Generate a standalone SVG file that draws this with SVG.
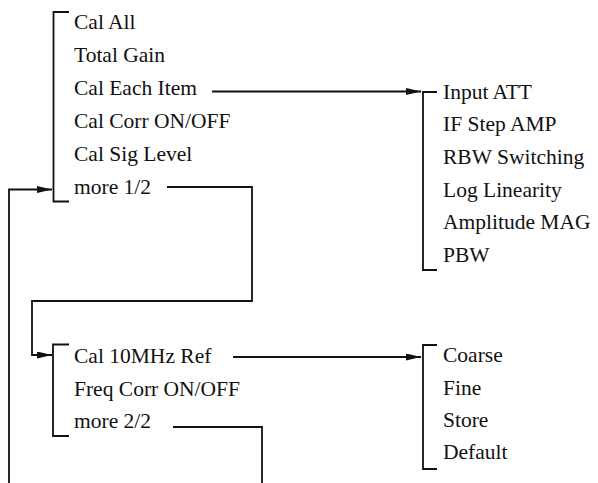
<svg xmlns="http://www.w3.org/2000/svg" width="598" height="483" viewBox="0 0 598 483">
<style>
.t{font-family:"Liberation Serif","Times New Roman",serif;font-size:21.5px;fill:#111}
.br{fill:none;stroke:#111;stroke-width:1.8}
.c{fill:none;stroke:#111;stroke-width:1.8}
</style>
<defs>
<marker id="ah" markerUnits="userSpaceOnUse" markerWidth="16" markerHeight="8" refX="15" refY="3.5" orient="auto">
<path d="M0,0 L15,3.5 L0,7 z" fill="#111"/>
</marker>
</defs>
<rect width="598" height="483" fill="#fff"/>
<g id="connectors">
<path class="c" d="M212,91.5 H421" marker-end="url(#ah)"/>
<path class="c" d="M167,187 H252 V301 H32 V355 H52" marker-end="url(#ah)"/>
<path class="c" d="M233,357 H421" marker-end="url(#ah)"/>
<path class="c" d="M173,427 H262 V483"/>
<path class="c" d="M9,483 V189.5 H52" marker-end="url(#ah)"/>
</g>
<g id="menu1">
<path class="br" d="M69,12 H53.5 V201.5 H69"/>
<text class="t" x="74" y="29">Cal All</text>
<text class="t" x="74" y="62">Total Gain</text>
<text class="t" x="74" y="95">Cal Each Item</text>
<text class="t" x="74" y="128">Cal Corr ON/OFF</text>
<text class="t" x="74" y="161">Cal Sig Level</text>
<text class="t" x="74" y="193.5">more 1/2</text>
</g>
<g id="menu2">
<path class="br" d="M437,92 H423 V270 H437"/>
<text class="t" x="443" y="98.5">Input ATT</text>
<text class="t" x="443" y="131.2">IF Step AMP</text>
<text class="t" x="443" y="163.9">RBW Switching</text>
<text class="t" x="443" y="196.6">Log Linearity</text>
<text class="t" x="443" y="229.3">Amplitude MAG</text>
<text class="t" x="443" y="262">PBW</text>
</g>
<g id="menu3">
<path class="br" d="M69,344.5 H53 V436 H69"/>
<text class="t" x="74" y="363.3">Cal 10MHz Ref</text>
<text class="t" x="74" y="395.5">Freq Corr ON/OFF</text>
<text class="t" x="74" y="428">more 2/2</text>
</g>
<g id="menu4">
<path class="br" d="M437,345 H423 V469 H437"/>
<text class="t" x="443" y="362">Coarse</text>
<text class="t" x="443" y="394.5">Fine</text>
<text class="t" x="443" y="427">Store</text>
<text class="t" x="443" y="459">Default</text>
</g>
</svg>
